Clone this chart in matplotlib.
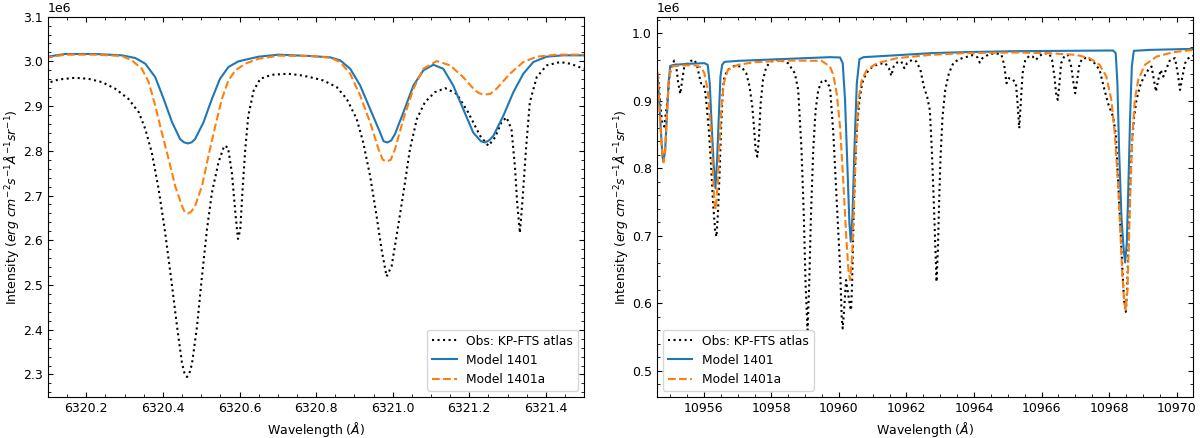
import numpy as np
import matplotlib
matplotlib.use('Agg')
import matplotlib.pyplot as plt
from matplotlib.ticker import MultipleLocator

# Left window (Fe I 6320-6321 A), intensities in units of 1e6
obs_l_wl = [6320.093, 6320.128, 6320.171, 6320.206, 6320.241, 6320.276, 6320.310, 6320.337,
            6320.354, 6320.371, 6320.389, 6320.406, 6320.423, 6320.437, 6320.450, 6320.456, 6320.463,
            6320.470, 6320.476, 6320.489, 6320.502, 6320.515, 6320.528, 6320.545, 6320.560, 6320.570,
            6320.580, 6320.590, 6320.596, 6320.602, 6320.608, 6320.615, 6320.623, 6320.637,
            6320.654, 6320.684, 6320.728, 6320.763,
            6320.784, 6320.819, 6320.854, 6320.880, 6320.906, 6320.923, 6320.941, 6320.958,
            6320.971, 6320.984, 6320.997, 6321.010, 6321.028, 6321.045, 6321.063, 6321.084,
            6321.110, 6321.137, 6321.167, 6321.197, 6321.228, 6321.250, 6321.267, 6321.284,
            6321.297, 6321.310, 6321.319, 6321.325, 6321.332, 6321.339, 6321.348, 6321.358,
            6321.376, 6321.402, 6321.437, 6321.463, 6321.499]
obs_l_int = [2.9498, 2.9596, 2.9633, 2.9610, 2.9536, 2.9386, 2.9161, 2.8861,
             2.8487, 2.7963, 2.7139, 2.6165, 2.5041, 2.4067, 2.3243, 2.3040, 2.2944,
             2.3050, 2.3243, 2.4067, 2.5191, 2.6240, 2.7064, 2.7738, 2.8112, 2.8075,
             2.7513, 2.6539, 2.6030, 2.6240, 2.7139, 2.8037, 2.8787, 2.9348,
             2.9610, 2.9700, 2.9723, 2.9685,
             2.9648, 2.9573, 2.9423, 2.9161, 2.8712, 2.8187, 2.7438, 2.6539,
             2.5790, 2.5191, 2.5416, 2.6090, 2.7064, 2.8037, 2.8712, 2.9086,
             2.9311, 2.9401, 2.9273, 2.8861, 2.8337, 2.8112, 2.8300, 2.8637,
             2.8749, 2.8487, 2.7663, 2.6839, 2.6165, 2.6914, 2.8037, 2.9086,
             2.9648, 2.9910, 2.9985, 2.9948, 2.9835]

m1401_l_wl = [6320.093, 6320.145, 6320.223, 6320.293, 6320.328, 6320.354, 6320.380, 6320.402,
              6320.424, 6320.445, 6320.455, 6320.465, 6320.475, 6320.484, 6320.506, 6320.528, 6320.549,
              6320.571, 6320.597, 6320.650, 6320.702,
              6320.784, 6320.837, 6320.863, 6320.889, 6320.915, 6320.941, 6320.967, 6320.976, 6320.986,
              6320.996, 6321.006, 6321.028, 6321.054, 6321.080, 6321.106, 6321.132, 6321.158, 6321.184,
              6321.210, 6321.230, 6321.241, 6321.252, 6321.263, 6321.289, 6321.315, 6321.341, 6321.367,
              6321.402, 6321.445, 6321.499]
m1401_l_int = [3.0097, 3.0165, 3.0165, 3.0135, 3.0075, 2.9948, 2.9648, 2.9161,
               2.8637, 2.8262, 2.8190, 2.8165, 2.8190, 2.8262, 2.8637, 2.9161, 2.9610,
               2.9873, 3.0000, 3.0105, 3.0150,
               3.0120, 3.0090, 3.0022, 2.9835, 2.9461, 2.8936, 2.8412, 2.8215, 2.8187,
               2.8230, 2.8375, 2.8861, 2.9461, 2.9798, 2.9925, 2.9835, 2.9461, 2.8936,
               2.8412, 2.8215, 2.8187, 2.8235, 2.8337, 2.8787, 2.9311, 2.9723, 2.9985,
               3.0105, 3.0135, 3.0135]

m1401a_l_wl = [6320.093, 6320.145, 6320.223, 6320.293, 6320.319, 6320.345, 6320.363, 6320.380,
               6320.397, 6320.415, 6320.432, 6320.450, 6320.457, 6320.465, 6320.474, 6320.484,
               6320.502, 6320.519, 6320.537, 6320.554, 6320.571, 6320.589, 6320.615, 6320.650,
               6320.702,
               6320.784, 6320.837, 6320.863, 6320.889, 6320.915, 6320.941, 6320.963, 6320.974,
               6320.984, 6320.995, 6321.006, 6321.028, 6321.054, 6321.080, 6321.115, 6321.150,
               6321.184, 6321.215, 6321.228, 6321.241, 6321.255, 6321.271, 6321.306, 6321.341,
               6321.376, 6321.428, 6321.499]
m1401a_l_int = [3.0075, 3.0150, 3.0150, 3.0120, 3.0022, 2.9835, 2.9536, 2.9011,
                2.8412, 2.7813, 2.7213, 2.6764, 2.6630, 2.6599, 2.6640, 2.6764,
                2.7213, 2.7888, 2.8562, 2.9161, 2.9573, 2.9798, 2.9948, 3.0060,
                3.0127,
                3.0120, 3.0082, 2.9985, 2.9723, 2.9236, 2.8637, 2.8037, 2.7800,
                2.7760, 2.7800, 2.8037, 2.8712, 2.9386, 2.9835, 3.0007, 2.9910,
                2.9648, 2.9348, 2.9280, 2.9258, 2.9275, 2.9386, 2.9723, 2.9985,
                3.0105, 3.0150, 3.0150]

# Right window (10955-10970 A), intensities in units of 1e6
obs_r_wl = [10954.646, 10954.706, 10954.765, 10954.825, 10954.924, 10954.983, 10955.043, 10955.122,
            10955.182, 10955.241, 10955.301, 10955.360, 10955.420, 10955.519, 10955.618, 10955.717,
            10955.797, 10955.856, 10955.916, 10955.975, 10956.035, 10956.094, 10956.154, 10956.214,
            10956.273, 10956.333, 10956.372, 10956.412, 10956.462, 10956.511, 10956.561, 10956.610,
            10956.710, 10956.908, 10957.106, 10957.255, 10957.354, 10957.434, 10957.483, 10957.533,
            10957.583, 10957.632, 10957.682, 10957.751, 10957.850, 10957.999, 10958.148, 10958.297,
            10958.495, 10958.694, 10958.793, 10958.892, 10958.961, 10959.011, 10959.071, 10959.120,
            10959.170, 10959.239, 10959.309, 10959.388, 10959.487, 10959.587, 10959.686,
            10959.735, 10959.834, 10959.933, 10960.033, 10960.082, 10960.112, 10960.152, 10960.211,
            10960.271, 10960.330, 10960.360, 10960.390, 10960.429, 10960.479, 10960.529, 10960.608,
            10960.687, 10960.806, 10960.975, 10961.174, 10961.372, 10961.481, 10961.551, 10961.620,
            10961.719, 10961.848, 10961.937, 10962.017, 10962.166, 10962.295, 10962.414, 10962.513,
            10962.612, 10962.692, 10962.751, 10962.811, 10962.860, 10962.890, 10962.930, 10962.969,
            10963.009, 10963.068, 10963.148, 10963.257, 10963.386, 10963.554, 10963.753, 10963.951,
            10964.100, 10964.169, 10964.249, 10964.447, 10964.646, 10964.814, 10964.894, 10964.963,
            10965.033, 10965.142,
            10965.241, 10965.291, 10965.340, 10965.390, 10965.439, 10965.519, 10965.638, 10965.737,
            10965.836, 10965.935, 10966.084, 10966.233, 10966.312, 10966.382, 10966.431, 10966.481,
            10966.531, 10966.580, 10966.680, 10966.779, 10966.878, 10966.947, 10966.997, 10967.057,
            10967.126, 10967.225, 10967.374, 10967.572, 10967.721, 10967.840, 10967.969, 10968.118,
            10968.197, 10968.247, 10968.297, 10968.346, 10968.396, 10968.445, 10968.495, 10968.535,
            10968.584, 10968.634, 10968.683, 10968.743, 10968.812, 10968.912, 10969.011, 10969.160,
            10969.259, 10969.328, 10969.388, 10969.457, 10969.527, 10969.606, 10969.685, 10969.805,
            10969.953, 10970.033, 10970.102, 10970.172, 10970.251, 10970.350, 10970.499]
obs_r_int = [0.9361, 0.8965, 0.8668, 0.8619, 0.9015, 0.9386, 0.9510, 0.9599,
             0.9510, 0.9262, 0.9104, 0.9312, 0.9510, 0.9559, 0.9594, 0.9609,
             0.9535, 0.9386, 0.9262, 0.9262, 0.9163, 0.8866, 0.8520, 0.8025,
             0.7480, 0.7084, 0.6985, 0.7282, 0.7876, 0.8619, 0.9163, 0.9361,
             0.9460, 0.9520, 0.9510, 0.9411, 0.9213, 0.8916, 0.8619, 0.8272,
             0.8173, 0.8470, 0.8965, 0.9312, 0.9510, 0.9584, 0.9609, 0.9599,
             0.9559, 0.9411, 0.9163, 0.8272, 0.7282, 0.6292, 0.5599, 0.6292,
             0.7282, 0.8272, 0.8866, 0.9163, 0.9287, 0.9312, 0.9238,
             0.9213, 0.8520, 0.7530, 0.6540, 0.5797, 0.5624, 0.5896, 0.6342,
             0.6144, 0.5946, 0.5896, 0.6292, 0.7183, 0.8025, 0.8569, 0.9015,
             0.9262, 0.9411, 0.9500, 0.9550, 0.9560, 0.9485, 0.9371, 0.9510,
             0.9569, 0.9584, 0.9485, 0.9559, 0.9609, 0.9584, 0.9460, 0.9213,
             0.9064, 0.8866, 0.8272, 0.7480, 0.6787, 0.6317, 0.6787, 0.7530,
             0.8173, 0.8767, 0.9163, 0.9411, 0.9559, 0.9619, 0.9649, 0.9678,
             0.9649, 0.9569, 0.9634, 0.9693, 0.9708, 0.9683, 0.9535, 0.9262,
             0.9337, 0.9322,
             0.9262, 0.8965, 0.8594, 0.9015, 0.9411, 0.9609, 0.9668, 0.9658,
             0.9609, 0.9668, 0.9708, 0.9698, 0.9609, 0.9361, 0.9114, 0.9015,
             0.9262, 0.9559, 0.9668, 0.9683, 0.9510, 0.9262, 0.9114, 0.9312,
             0.9559, 0.9634, 0.9634, 0.9559, 0.9460, 0.9213, 0.8965, 0.8767,
             0.8520, 0.8025, 0.7530, 0.7035, 0.6490, 0.6045, 0.5871, 0.6193,
             0.7035, 0.7876, 0.8421, 0.8767, 0.9015, 0.9213, 0.9337, 0.9460,
             0.9510, 0.9312, 0.9139, 0.9312, 0.9460, 0.9361, 0.9460, 0.9609,
             0.9634, 0.9411, 0.9163, 0.9361, 0.9559, 0.9634, 0.9668]

m1401_r_wl = [10954.626, 10954.676, 10954.725, 10954.775, 10954.805, 10954.854, 10954.904, 10954.954,
              10955.003, 10955.122, 10955.519, 10956.015, 10956.114, 10956.174, 10956.233, 10956.293,
              10956.343, 10956.392, 10956.442, 10956.491, 10956.541, 10956.610, 10957.007, 10957.503,
              10958.495,
              10959.735, 10960.033, 10960.112, 10960.181, 10960.251, 10960.310, 10960.350, 10960.400,
              10960.459, 10960.529, 10960.608, 10960.727, 10961.719, 10962.711, 10963.703,
              10965.241, 10966.729, 10968.118, 10968.197, 10968.247, 10968.297, 10968.366, 10968.435,
              10968.475, 10968.525, 10968.574, 10968.624, 10968.674, 10968.733, 10969.209, 10970.499]
m1401_r_int = [0.9386, 0.9015, 0.8569, 0.8173, 0.8099, 0.8272, 0.8767, 0.9262,
               0.9520, 0.9535, 0.9550, 0.9560, 0.9535, 0.9262, 0.8619, 0.8025,
               0.7703, 0.8124, 0.8767, 0.9361, 0.9535, 0.9579, 0.9594, 0.9604,
               0.9624,
               0.9649, 0.9644, 0.9560, 0.9015, 0.8025, 0.7183, 0.6911, 0.7282,
               0.8272, 0.9262, 0.9619, 0.9649, 0.9678, 0.9708, 0.9723,
               0.9738, 0.9743, 0.9748, 0.9708, 0.9262, 0.8272, 0.7282, 0.6787,
               0.6604, 0.6886, 0.7777, 0.8767, 0.9510, 0.9743, 0.9757, 0.9772]

m1401a_r_wl = [10954.626, 10954.676, 10954.725, 10954.775, 10954.805, 10954.854, 10954.904, 10954.954,
               10955.023, 10955.321, 10955.717, 10955.916, 10956.015, 10956.114, 10956.194, 10956.263,
               10956.313, 10956.353, 10956.412, 10956.462, 10956.511, 10956.591, 10956.710, 10957.007,
               10957.503, 10958.495, 10959.487,
               10959.735, 10959.834, 10959.933, 10960.033, 10960.132, 10960.211, 10960.281, 10960.330,
               10960.390, 10960.449, 10960.509, 10960.578, 10960.677, 10960.826, 10961.124, 10961.719,
               10962.711, 10963.703,
               10965.241, 10966.233, 10967.027, 10967.424, 10967.721, 10967.920, 10968.068, 10968.168,
               10968.267, 10968.336, 10968.396, 10968.455, 10968.495, 10968.545, 10968.594, 10968.644,
               10968.693, 10968.763, 10968.862, 10969.060, 10969.408, 10969.904, 10970.499]
m1401a_r_int = [0.9436, 0.9015, 0.8520, 0.8173, 0.8089, 0.8272, 0.8767, 0.9262,
                0.9510, 0.9525, 0.9530, 0.9500, 0.9411, 0.9163, 0.8668, 0.8025,
                0.7480, 0.7391, 0.7777, 0.8371, 0.8866, 0.9262, 0.9460, 0.9535,
                0.9574, 0.9599, 0.9594,
                0.9510, 0.9386, 0.9114, 0.8619, 0.7777, 0.7035, 0.6490, 0.6342,
                0.6688, 0.7530, 0.8371, 0.9015, 0.9312, 0.9460, 0.9559, 0.9634,
                0.9683, 0.9708,
                0.9718, 0.9708, 0.9683, 0.9634, 0.9535, 0.9361, 0.9015, 0.8520,
                0.7777, 0.7035, 0.6391, 0.5995, 0.5896, 0.6193, 0.7035, 0.7876,
                0.8520, 0.9015, 0.9312, 0.9535, 0.9658, 0.9723, 0.9757]

SCALE = 1e6
FS = 9

fig, axes = plt.subplots(1, 2, figsize=(12, 4.38), dpi=100)
plt.subplots_adjust(left=0.04, right=0.994, bottom=0.094, top=0.962, wspace=0.135)

panels = [
    (axes[0], obs_l_wl, obs_l_int, m1401_l_wl, m1401_l_int, m1401a_l_wl, m1401a_l_int),
    (axes[1], obs_r_wl, obs_r_int, m1401_r_wl, m1401_r_int, m1401a_r_wl, m1401a_r_int),
]

for ax, ow, oi, bw, bi, aw, ai in panels:
    ax.plot(ow, np.array(oi) * SCALE, 'k:', lw=1.5, label='Obs: KP-FTS atlas')
    ax.plot(bw, np.array(bi) * SCALE, color='C0', lw=1.5, label='Model 1401')
    ax.plot(aw, np.array(ai) * SCALE, color='C1', ls='--', lw=1.5, label='Model 1401a')
    ax.set_xlabel('Wavelength ($\\AA$)', fontsize=FS)
    ax.set_ylabel('Intensity ($erg\\ cm^{-2} s^{-1} \\AA^{-1} sr^{-1}$)', fontsize=FS, labelpad=1.5)
    ax.tick_params(which='both', direction='in', top=True, right=True, labelsize=FS)
    ax.yaxis.get_offset_text().set_fontsize(FS)
    ax.minorticks_on()

# left panel
axes[0].set_xlim(6320.1, 6321.5)
axes[0].set_ylim(2.25e6, 3.1e6)
axes[0].xaxis.set_major_locator(MultipleLocator(0.2))
axes[0].xaxis.set_minor_locator(MultipleLocator(0.05))
axes[0].yaxis.set_major_locator(MultipleLocator(0.1e6))
axes[0].yaxis.set_minor_locator(MultipleLocator(0.02e6))
axes[0].legend(loc='lower right', fontsize=8.8)

# right panel
axes[1].set_xlim(10954.6, 10970.48)
axes[1].set_ylim(0.461e6, 1.025e6)
axes[1].xaxis.set_major_locator(MultipleLocator(2))
axes[1].xaxis.set_minor_locator(MultipleLocator(0.5))
axes[1].yaxis.set_major_locator(MultipleLocator(0.1e6))
axes[1].yaxis.set_minor_locator(MultipleLocator(0.02e6))
axes[1].legend(loc='lower left', fontsize=8.8)

plt.savefig('out.png', dpi=100)
